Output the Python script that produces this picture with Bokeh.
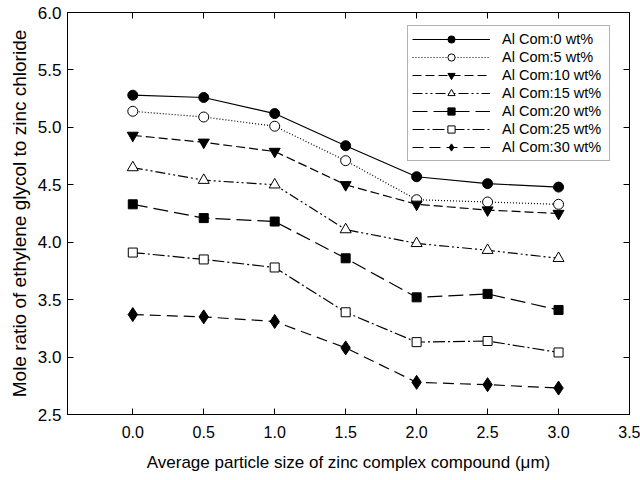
from bokeh.plotting import figure
from bokeh.models import (Range1d, LinearAxis, SingleIntervalTicker,
                          NumeralTickFormatter, CustomJSTickFormatter,
                          Legend, LegendItem)
from bokeh.embed import file_html
from bokeh.resources import INLINE

sizes = [0.0, 0.5, 1.0, 1.5, 2.0, 2.5, 3.0]
al0 = [5.28, 5.26, 5.12, 4.84, 4.57, 4.51, 4.48]
al5 = [5.14, 5.09, 5.01, 4.71, 4.37, 4.35, 4.33]
al10 = [4.93, 4.87, 4.79, 4.50, 4.33, 4.28, 4.25]
al15 = [4.65, 4.54, 4.50, 4.11, 3.99, 3.93, 3.86]
al20 = [4.33, 4.21, 4.18, 3.86, 3.52, 3.55, 3.41]
al25 = [3.91, 3.85, 3.78, 3.39, 3.13, 3.14, 3.04]
al30 = [3.37, 3.35, 3.31, 3.08, 2.78, 2.76, 2.73]
series_labels = ["Al Com:0 wt%", "Al Com:5 wt%", "Al Com:10 wt%", "Al Com:15 wt%",
                 "Al Com:20 wt%", "Al Com:25 wt%", "Al Com:30 wt%"]
x_title = "Average particle size of zinc complex compound (\u03bcm)"
y_title = "Mole ratio of ethylene glycol to zinc chloride"

FONT = "Liberation Sans"

styles = [
    dict(marker="circle", fill="black", size=10, dash="solid"),
    dict(marker="circle", fill="white", size=10, dash="1 2"),
    dict(marker="inverted_triangle", fill="black", size=11, dash="9 4"),
    dict(marker="triangle", fill="white", size=11, dash="10 3 2 3 2 3"),
    dict(marker="square", fill="black", size=9, dash="15 6"),
    dict(marker="square", fill="white", size=9, dash="12 3 2 3"),
    dict(marker="diamond", fill="black", size=14, dash="11 6"),
]
all_series = [al0, al5, al10, al15, al20, al25, al30]

p = figure(width=640, height=480, output_backend="svg", toolbar_location=None,
           x_range=Range1d(-0.46, 3.5), y_range=Range1d(2.5, 6.0),
           min_border_left=67, min_border_right=11, min_border_top=12,
           min_border_bottom=66)
p.background_fill_color = "white"
p.border_fill_color = "white"
p.outline_line_color = "black"
p.outline_line_width = 1
p.xgrid.visible = False
p.ygrid.visible = False

for ax in (p.xaxis[0], p.yaxis[0]):
    ax.major_tick_in = 6
    ax.major_tick_out = 0
    ax.minor_tick_in = 0
    ax.minor_tick_out = 0
    ax.axis_line_color = "black"
    ax.major_tick_line_color = "black"
    ax.major_label_text_font = FONT
    ax.major_label_text_color = "black"
    ax.axis_label_text_font = FONT
    ax.axis_label_text_font_style = "normal"
    ax.axis_label_text_color = "black"
    ax.formatter = NumeralTickFormatter(format="0.0")

p.xaxis[0].ticker = SingleIntervalTicker(interval=0.5)
p.yaxis[0].ticker = SingleIntervalTicker(interval=0.5)
p.xaxis[0].axis_label = x_title
p.yaxis[0].axis_label = y_title
p.xaxis[0].major_label_text_font_size = "16px"
p.yaxis[0].major_label_text_font_size = "17px"
p.xaxis[0].axis_label_text_font_size = "17px"
p.yaxis[0].axis_label_text_font_size = "19px"
p.xaxis[0].major_label_standoff = 11
p.xaxis[0].axis_label_standoff = 12
p.yaxis[0].major_label_standoff = 6
p.yaxis[0].axis_label_standoff = 5

for loc in ("right", "above"):
    ax = LinearAxis(ticker=SingleIntervalTicker(interval=0.5),
                    formatter=CustomJSTickFormatter(code="return ''"))
    ax.major_tick_in = 6
    ax.major_tick_out = 0
    ax.minor_tick_in = 0
    ax.minor_tick_out = 0
    ax.major_label_standoff = 0
    ax.axis_line_color = "black"
    p.add_layout(ax, loc)

items = []
for ys, st, lab in zip(all_series, styles, series_labels):
    r1 = p.line(sizes, ys, line_color="black", line_width=1.2, line_dash=st["dash"])
    r2 = p.scatter(sizes, ys, marker=st["marker"], size=st["size"],
                   fill_color=st["fill"], line_color="black", line_width=1)
    items.append(LegendItem(label=lab, renderers=[r1, r2]))

legend = Legend(items=items, location=(340, 253), margin=0)
legend.glyph_width = 78
legend.glyph_height = 18
legend.label_height = 16
legend.label_width = 103
legend.spacing = 0
legend.padding = 4
legend.label_standoff = 12
legend.label_text_font = FONT
legend.label_text_font_size = "14.5px"
legend.label_text_color = "black"
legend.border_line_color = "#666666"
legend.border_line_width = 1
legend.background_fill_color = "white"
legend.background_fill_alpha = 1
p.add_layout(legend, "center")

open("out.html", "w").write(file_html(p, INLINE))
